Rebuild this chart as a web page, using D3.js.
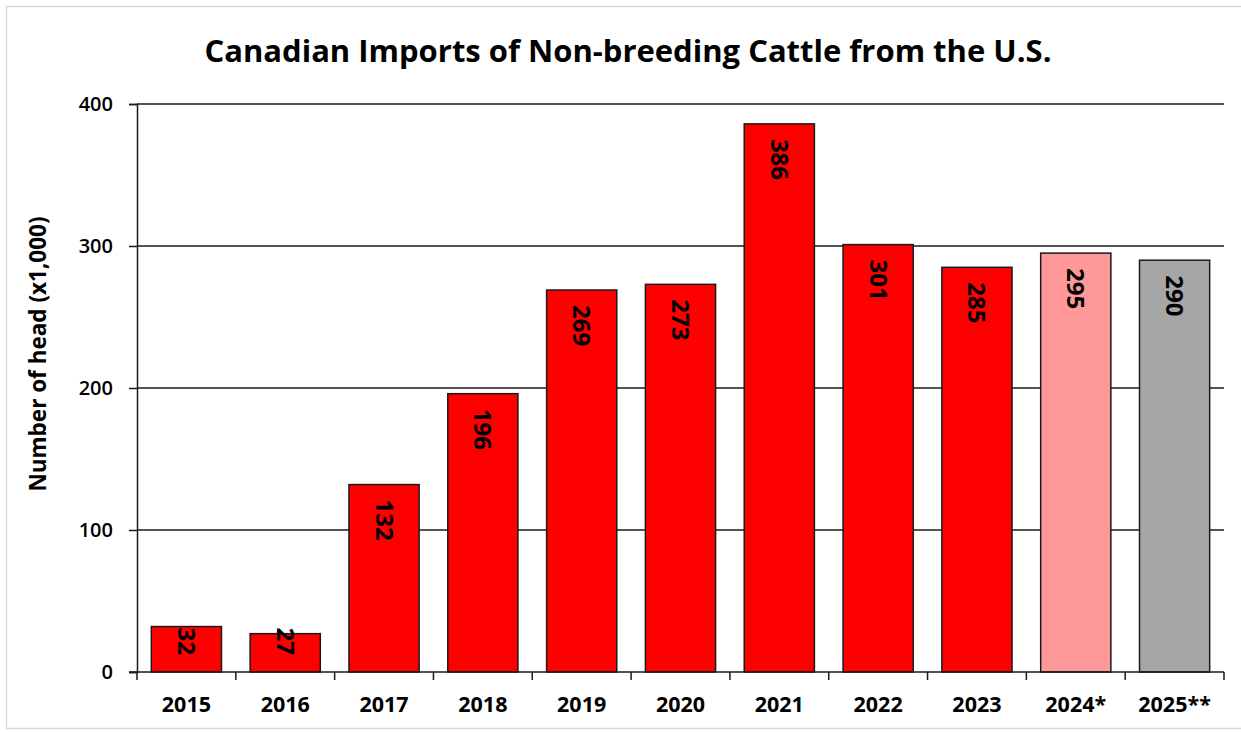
<!DOCTYPE html>
<html>
<head>
<meta charset="utf-8">
<script src="https://cdn.jsdelivr.net/npm/d3@7"></script>
<style>
  html, body { margin: 0; padding: 0; background: #fff; }
  svg { display: block; }
  text { font-family: "Open Sans", "Liberation Sans", sans-serif; fill: #000; }
</style>
</head>
<body>
<svg id="chart" width="1241" height="732"></svg>
<script>
const categories = ["2015","2016","2017","2018","2019","2020","2021","2022","2023","2024*","2025**"];
const values = [32, 27, 132, 196, 269, 273, 386, 301, 285, 295, 290];
const barColors = ["#ff0000","#ff0000","#ff0000","#ff0000","#ff0000","#ff0000","#ff0000","#ff0000","#ff0000","#ff9999","#a6a6a6"];
const yTicks = [0, 100, 200, 300, 400];
const title = "Canadian Imports of Non-breeding Cattle from the U.S.";
const yTitle = "Number of head (x1,000)";

const svg = d3.select("#chart");
const plot = { left: 137, right: 1224, top: 104, bottom: 672 };

// outer frame
svg.append("rect").attr("x", 6.5).attr("y", 6.5).attr("width", 1240).attr("height", 722)
  .attr("fill", "#fff").attr("stroke", "#d9d9d9").attr("stroke-width", 1.5);

const x = d3.scaleBand().domain(categories).range([plot.left, plot.right])
  .paddingInner(0.29).paddingOuter(0.145);
const y = d3.scaleLinear().domain([0, 400]).range([plot.bottom, plot.top]);

// gridlines
svg.append("g").selectAll("line").data(yTicks.filter(d => d > 0)).join("line")
  .attr("x1", plot.left).attr("x2", plot.right)
  .attr("y1", d => y(d)).attr("y2", d => y(d))
  .attr("stroke", "#1a1a1a").attr("stroke-width", 1.5);

// y axis
const yAxis = svg.append("g").attr("transform", `translate(${plot.left},0)`)
  .call(d3.axisLeft(y).tickValues(yTicks).tickSize(8).tickPadding(16).tickFormat(d3.format("d")));
yAxis.select(".domain").attr("stroke", "#1a1a1a").attr("stroke-width", 1.5);
yAxis.selectAll(".tick line").attr("stroke", "#1a1a1a").attr("stroke-width", 1.5);
yAxis.selectAll(".tick text").attr("font-size", 20).attr("font-weight", 600).attr("fill", "#111")
  .style("font-family", '"Open Sans", sans-serif');

// bars
svg.append("g").selectAll("rect").data(categories).join("rect")
  .attr("x", d => x(d)).attr("width", x.bandwidth())
  .attr("y", (d, i) => y(values[i])).attr("height", (d, i) => y(0) - y(values[i]))
  .attr("fill", (d, i) => barColors[i]).attr("stroke", "#1a1a1a").attr("stroke-width", 1.5);

// x axis
const xb = d3.scaleLinear().domain([0, categories.length]).range([plot.left, plot.right]);
const xg = svg.append("g");
xg.append("line").attr("x1", plot.left - 8).attr("x2", plot.right)
  .attr("y1", plot.bottom).attr("y2", plot.bottom).attr("stroke", "#1a1a1a").attr("stroke-width", 1.5);
xg.selectAll("line.t").data(d3.range(categories.length + 1)).join("line").attr("class", "t")
  .attr("x1", d => xb(d)).attr("x2", d => xb(d))
  .attr("y1", plot.bottom).attr("y2", plot.bottom + 8)
  .attr("stroke", "#1a1a1a").attr("stroke-width", 1.5);
xg.selectAll("text").data(categories).join("text")
  .attr("x", d => x(d) + x.bandwidth() / 2).attr("y", 712)
  .attr("text-anchor", "middle").attr("font-size", 21.5).attr("font-weight", 700).attr("fill", "#111")
  .text(d => d);

// value labels
const lbl = svg.append("g").selectAll("text").data(categories).join("text")
  .attr("font-size", 24).attr("font-weight", 700)
  .attr("text-anchor", "start").attr("dominant-baseline", "central")
  .text((d, i) => values[i]);
lbl.each(function(d, i) {
  const len = this.getComputedTextLength();
  const top = y(values[i]);
  const start = Math.min(top + 15, y(0) - 17 - len);
  const cx = x(d) + x.bandwidth() / 2 + 1;
  d3.select(this).attr("transform", `translate(${cx},${start}) rotate(90)`);
});

// title
svg.append("text").attr("x", 628).attr("y", 62).attr("text-anchor", "middle")
  .attr("font-size", 31).attr("font-weight", 700).text(title);

// y title
svg.append("text").attr("transform", `translate(46,354) rotate(-90)`)
  .attr("text-anchor", "middle").attr("font-size", 22.5).attr("font-weight", 700).text(yTitle);
</script>
</body>
</html>
